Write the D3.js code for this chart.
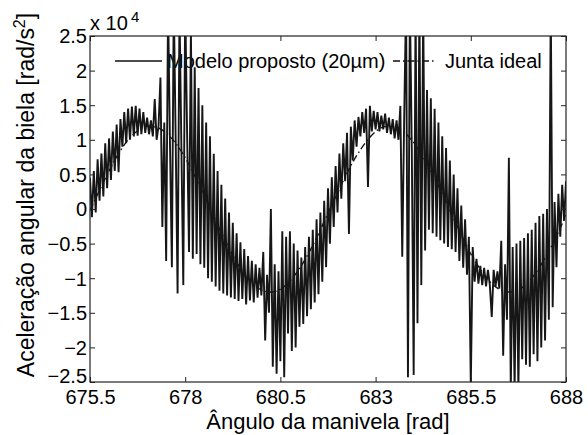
<!DOCTYPE html>
<html><head><meta charset="utf-8">
<script src="https://cdn.jsdelivr.net/npm/d3@7"></script>
<style>
body{margin:0;background:#fff}
svg{display:block}
text{font-family:"Liberation Sans",Arial,Helvetica,sans-serif;fill:#000}
</style>
</head><body>
<svg id="chart" width="588" height="435"></svg>
<script>
// ---------- data (acceleration in units of 10^4 rad/s^2) ----------
const xTicks = [675.5, 678, 680.5, 683, 685.5, 688];
const xTickLabels = ["675.5", "678", "680.5", "683", "685.5", "688"];
const yTicks = [-2.5, -2, -1.5, -1, -0.5, 0, 0.5, 1, 1.5, 2, 2.5];
const yTickLabels = ["\u22122.5", "\u22122", "\u22121.5", "\u22121", "\u22120.5", "0", "0.5", "1", "1.5", "2", "2.5"];
const seriesNames = ["Modelo proposto (20\u00b5m)", "Junta ideal"];

const angle = [
675.50,675.55,675.60,675.65,675.70,675.75,675.80,675.85,675.90,675.95,
676.00,676.05,676.10,676.15,676.20,676.25,676.30,676.35,676.40,676.45,
676.50,676.55,676.60,676.65,676.70,676.75,676.80,676.85,676.90,676.95,
677.00,677.05,677.10,677.15,677.20,677.25,677.30,677.35,677.40,677.45,
677.50,677.55,677.60,677.65,677.70,677.75,677.80,677.85,677.90,677.95,
678.00,678.05,678.10,678.15,678.20,678.25,678.30,678.35,678.40,678.45,
678.50,678.55,678.60,678.65,678.70,678.75,678.80,678.85,678.90,678.95,
679.00,679.05,679.10,679.15,679.20,679.25,679.30,679.35,679.40,679.45,
679.50,679.55,679.60,679.65,679.70,679.75,679.80,679.85,679.90,679.95,
680.00,680.05,680.10,680.15,680.20,680.25,680.30,680.35,680.40,680.45,
680.50,680.55,680.60,680.65,680.70,680.75,680.80,680.85,680.90,680.95,
681.00,681.05,681.10,681.15,681.20,681.25,681.30,681.35,681.40,681.45,
681.50,681.55,681.60,681.65,681.70,681.75,681.80,681.85,681.90,681.95,
682.00,682.05,682.10,682.15,682.20,682.25,682.30,682.35,682.40,682.45,
682.50,682.55,682.60,682.65,682.70,682.75,682.80,682.85,682.90,682.95,
683.00,683.05,683.10,683.15,683.20,683.25,683.30,683.35,683.40,683.45,
683.50,683.55,683.60,683.65,683.70,683.75,683.80,683.85,683.90,683.95,
684.00,684.05,684.10,684.15,684.20,684.25,684.30,684.35,684.40,684.45,
684.50,684.55,684.60,684.65,684.70,684.75,684.80,684.85,684.90,684.95,
685.00,685.05,685.10,685.15,685.20,685.25,685.30,685.35,685.40,685.45,
685.50,685.55,685.60,685.65,685.70,685.75,685.80,685.85,685.90,685.95,
686.00,686.05,686.10,686.15,686.20,686.25,686.30,686.35,686.40,686.45,
686.50,686.55,686.60,686.65,686.70,686.75,686.80,686.85,686.90,686.95,
687.00,687.05,687.10,687.15,687.20,687.25,687.30,687.35,687.40,687.45,
687.50,687.55,687.60,687.65,687.70,687.75,687.80,687.85,687.90,687.95,
688.00
];
const accel = [
0.45,-0.12,0.55,-0.05,0.72,0.12,0.80,0.18,0.95,0.30,
1.02,0.42,1.12,0.55,1.22,0.53,1.30,0.90,1.40,0.95,
1.45,1.00,1.48,1.05,1.49,1.06,1.45,1.08,1.40,1.10,
1.32,1.08,1.28,1.05,1.59,1.00,1.20,1.90,-0.26,1.25,
-0.75,2.95,0.95,-0.84,3.00,1.00,-1.22,2.90,0.90,-1.10,
3.00,1.10,-0.62,2.60,-0.72,2.05,-0.65,1.75,-0.80,1.50,
-0.85,1.25,-1.00,1.05,-1.05,0.80,-1.12,0.55,-1.18,0.35,
-1.22,0.15,-1.25,-0.05,-1.28,-0.20,-1.30,-0.35,-1.33,-0.48,
-1.30,-0.58,-1.38,-0.68,-1.32,-0.75,-1.35,-0.80,-1.28,-0.85,
-1.25,-0.62,-1.90,-0.95,-1.50,0.00,-2.28,-0.80,-2.38,-0.90,
-2.20,-0.32,-2.43,-0.40,-1.80,-0.32,-2.05,-0.50,-2.00,-0.60,
-1.70,-0.70,-1.66,-0.55,-1.55,-0.40,-1.45,-0.30,-1.35,-0.15,
-1.23,-0.05,-1.05,0.12,-0.84,0.30,-0.50,0.46,-0.26,0.62,
-0.05,0.80,0.15,0.95,0.40,1.10,-0.36,1.19,0.70,1.28,
0.90,1.33,1.05,1.40,1.10,1.45,0.32,1.49,1.12,1.42,
1.15,1.40,1.12,1.35,1.15,1.38,1.10,1.32,1.08,1.30,
1.02,1.28,1.00,1.49,-0.69,1.30,3.00,-2.43,3.00,0.90,
-2.40,3.00,-1.65,3.00,-1.10,2.90,-0.60,1.72,-0.30,1.60,
-0.35,1.45,-0.40,1.25,-0.45,1.05,-0.50,0.88,-0.55,0.70,
-0.58,0.50,-0.62,0.30,-0.75,0.05,-0.85,-0.15,-0.95,-0.40,
-2.55,-0.55,-1.05,-0.72,-1.08,-0.82,-1.10,-0.85,-1.12,-0.88,
-1.10,-1.56,-0.88,-1.12,-0.90,-1.15,-0.46,-2.12,-0.80,-1.60,
0.74,-2.60,-0.55,-2.60,-0.50,-2.60,-0.46,-2.17,-0.42,-2.25,
-0.35,-2.28,-0.30,-2.10,-0.20,-2.20,-0.10,-2.00,-0.07,-1.90,
0.00,-1.60,3.00,-1.42,0.10,-0.84,0.22,-0.40,0.35,-0.17,
0.40
];

const idealAngle = [
675.50,675.75,676.00,676.25,676.50,676.75,677.00,677.25,677.50,677.75,
678.00,678.25,678.50,678.75,679.00,679.25,679.50,679.75,680.00,680.25,
680.50,680.75,681.00,681.25,681.50,681.75,682.00,682.25,682.50,682.75,
683.00,683.25,683.50,683.75,684.00,684.25,684.50,684.75,685.00,685.25,
685.50,685.75,686.00,686.25,686.50,686.75,687.00,687.25,687.50,687.75,
688.00
];
const idealAccel = [
-0.02,0.27,0.55,0.80,1.00,1.13,1.20,1.18,1.10,0.95,
0.74,0.48,0.19,-0.11,-0.40,-0.67,-0.89,-1.06,-1.17,-1.20,
-1.16,-1.04,-0.86,-0.63,-0.36,-0.06,0.23,0.52,0.77,0.97,
1.12,1.19,1.19,1.11,0.96,0.75,0.50,0.22,-0.08,-0.37,
-0.65,-0.87,-1.05,-1.16,-1.20,-1.17,-1.06,-0.89,-0.66,-0.39,
-0.09
];

// ---------- layout ----------
const L = 90, R = 566, T = 36, B = 382;
const svg = d3.select("#chart");
const x = d3.scaleLinear().domain([675.5, 688]).range([L, R]);
const y = d3.scaleLinear().domain([-2.5, 2.5]).range([B, T]);

svg.append("defs").append("clipPath").attr("id", "clip")
  .append("rect").attr("x", L).attr("y", T).attr("width", R - L).attr("height", B - T);

// ---------- legend (drawn beneath the data) ----------
const leg = svg.append("g");
leg.append("line").attr("x1", 115).attr("x2", 162).attr("y1", 61).attr("y2", 61)
  .attr("stroke", "#111").attr("stroke-width", 1.5);
leg.append("text").attr("x", 167).attr("y", 68).attr("font-size", 20).text(seriesNames[0]);
leg.append("line").attr("x1", 393).attr("x2", 436).attr("y1", 61).attr("y2", 61)
  .attr("stroke", "#111").attr("stroke-width", 1.5).attr("stroke-dasharray", "7,3,1.5,3");
leg.append("text").attr("x", 445).attr("y", 68).attr("font-size", 20).text(seriesNames[1]);

// ---------- data ----------
const plot = svg.append("g").attr("clip-path", "url(#clip)");
const ideal = idealAngle.map((a, i) => [a, idealAccel[i]]);
const model = angle.map((a, i) => [a, accel[i]]);

plot.append("path").datum(ideal)
  .attr("fill", "none").attr("stroke", "#111").attr("stroke-width", 1.4)
  .attr("stroke-dasharray", "7,3,1.5,3")
  .attr("d", d3.line().x(d => x(d[0])).y(d => y(d[1])).curve(d3.curveMonotoneX));

plot.append("path").datum(model)
  .attr("fill", "none").attr("stroke", "#161616").attr("stroke-width", 1.9)
  .attr("stroke-linejoin", "miter").attr("stroke-miterlimit", 2)
  .attr("d", d3.line().x(d => x(d[0])).y(d => y(d[1])));

// ---------- axes ----------
const fmtX = (d) => xTickLabels[xTicks.indexOf(d)];
const fmtY = (d) => yTickLabels[yTicks.indexOf(d)];

const gb = svg.append("g").attr("transform", `translate(0,${B})`)
  .call(d3.axisBottom(x).tickValues(xTicks).tickFormat(fmtX).tickSize(-5).tickPadding(8));
const gl = svg.append("g").attr("transform", `translate(${L},0)`)
  .call(d3.axisLeft(y).tickValues(yTicks).tickFormat(fmtY).tickSize(-5).tickPadding(3));
const gt = svg.append("g").attr("transform", `translate(0,${T})`)
  .call(d3.axisTop(x).tickValues(xTicks).tickFormat("").tickSize(-5));
const gr = svg.append("g").attr("transform", `translate(${R},0)`)
  .call(d3.axisRight(y).tickValues(yTicks).tickFormat("").tickSize(-5));

[gb, gl, gt, gr].forEach(g => {
  g.select(".domain").remove();
  g.selectAll(".tick line").attr("stroke", "#222").attr("stroke-width", 1);
  g.selectAll(".tick text").attr("font-size", 20).attr("font-family", '"Liberation Sans",Arial,sans-serif').attr("fill", "#000");
});
gl.selectAll(".tick text").attr("dy", "0.34em");
// lift the lowest y label a little so it clears the first x label
gl.selectAll(".tick text").filter(d => d === -2.5).attr("dy", "0.02em");

svg.append("rect").attr("x", L).attr("y", T).attr("width", R - L).attr("height", B - T)
  .attr("fill", "none").attr("stroke", "#222").attr("stroke-width", 1.2);

// exponent label
svg.append("text").attr("x", 90).attr("y", 30).attr("font-size", 20).text("x 10");
svg.append("text").attr("x", 131).attr("y", 22).attr("font-size", 15).text("4");

// axis labels
svg.append("text").attr("x", 328).attr("y", 429).attr("text-anchor", "middle")
  .attr("font-size", 22).text("\u00c2ngulo da manivela [rad]");

const yl = svg.append("text").attr("transform", "translate(34,195) rotate(-90)")
  .attr("text-anchor", "middle").attr("font-size", 23);
yl.append("tspan").text("Acelera\u00e7\u00e3o angular da biela [rad/s");
yl.append("tspan").attr("font-size", 16).attr("dy", -9).text("2");
yl.append("tspan").attr("dy", 9).text("]");
</script>
</body></html>
